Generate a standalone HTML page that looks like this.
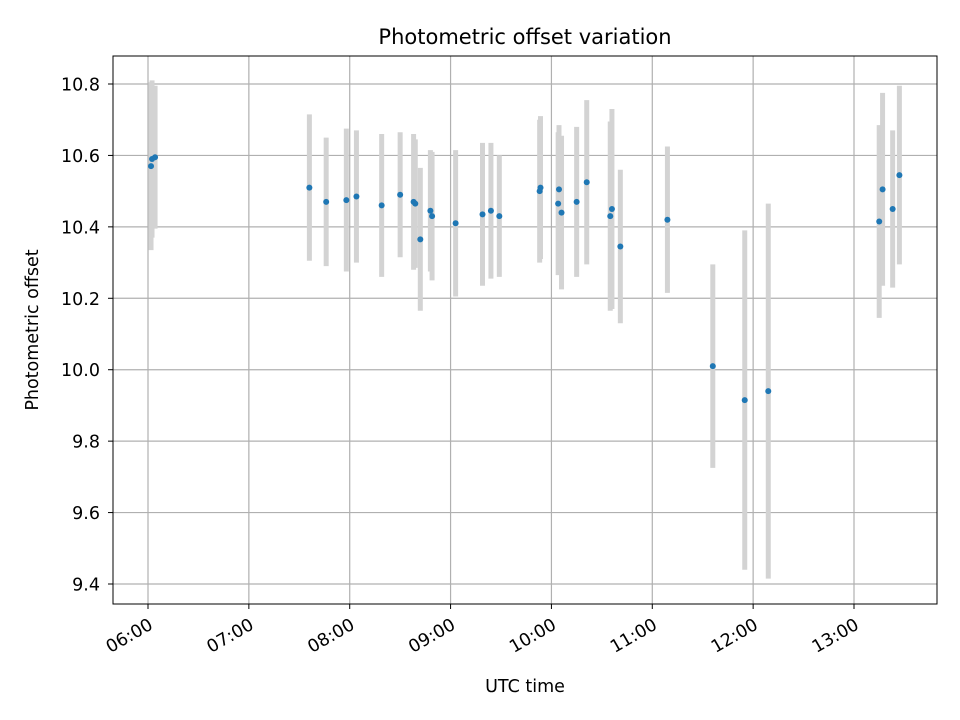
<!DOCTYPE html>
<html><head><meta charset="utf-8"><style>
body{margin:0;background:#fff}
svg{display:block;font-family:"DejaVu Sans","Liberation Sans",sans-serif}
</style></head><body>
<svg id="chart" width="960" height="720">
<rect width="960" height="720" fill="#fff"/>
<text x="525" y="44" text-anchor="middle" font-size="21">Photometric offset variation</text>
<g id="grid"></g>
<g id="bars"></g>
<g id="pts"></g>
<rect x="113" y="56" width="824" height="548" fill="none" stroke="#000" stroke-width="1"/>
<g id="axes"></g>
<text x="525" y="692" text-anchor="middle" font-size="17.5">UTC time</text>
<text transform="translate(38,330) rotate(-90)" text-anchor="middle" font-size="17.5">Photometric offset</text>
</svg>
<script>
// minutes after 06:00
const times=[1.8,2.4,4.2,96,106,118,124,139,150,158,159,162,168,169,183,199,204,209,233,233.5,244,244.5,246,255,261,275,276,281,309,336,355,369,435,437,443,447];
const values=[10.57,10.59,10.595,10.51,10.47,10.475,10.485,10.46,10.49,10.47,10.465,10.365,10.445,10.43,10.41,10.435,10.445,10.43,10.5,10.51,10.465,10.505,10.44,10.47,10.525,10.43,10.45,10.345,10.42,10.01,9.915,9.94,10.415,10.505,10.45,10.545];
const errors=[0.235,0.22,0.2,0.205,0.18,0.2,0.185,0.2,0.175,0.19,0.18,0.2,0.17,0.18,0.205,0.2,0.19,0.17,0.2,0.2,0.2,0.18,0.215,0.21,0.23,0.265,0.28,0.215,0.205,0.285,0.475,0.525,0.27,0.27,0.22,0.25];
const xTicks=["06:00","07:00","08:00","09:00","10:00","11:00","12:00","13:00"];
const yTicks=[9.4,9.6,9.8,10.0,10.2,10.4,10.6,10.8];
const NS="http://www.w3.org/2000/svg";
const X=m=>148+m*706/420;
const Y=v=>84+(10.8-v)*500/1.4;
function mk(tag,attrs,parent){const e=document.createElementNS(NS,tag);for(const k in attrs)e.setAttribute(k,attrs[k]);parent.appendChild(e);return e;}
const grid=document.getElementById('grid'),axes=document.getElementById('axes'),bars=document.getElementById('bars'),pts=document.getElementById('pts');
xTicks.forEach((lab,i)=>{const x=X(i*60);
 const g=mk('line',{x1:x,x2:x,y1:56,y2:604,stroke:'#b0b0b0','stroke-width':1.2},grid);
 
 
 const t=mk('line',{x1:x,x2:x,y1:604,y2:609,stroke:'#000'},axes);
 
 
 const tx=mk('text',{transform:`translate(${x+6},${628}) rotate(-30)`,'text-anchor':'end','font-size':17.5},axes);
 tx.textContent=lab;
 
 
});
yTicks.forEach(v=>{const y=Y(v);
 const g=mk('line',{x1:113,x2:937,y1:y,y2:y,stroke:'#b0b0b0','stroke-width':1.2},grid);
 
 
 const t=mk('line',{x1:108,x2:113,y1:y,y2:y,stroke:'#000'},axes);
 
 
 const tx=mk('text',{x:100,y:y+6.5,'text-anchor':'end','font-size':17.5},axes);
 tx.textContent=v.toFixed(1);
 
 
});
times.forEach((m,i)=>{const x=X(m);
 const b=mk('line',{x1:x,x2:x,y1:Y(values[i]+errors[i]),y2:Y(values[i]-errors[i]),stroke:'#d3d3d3','stroke-width':5},bars);
 
 
 const c=mk('circle',{cx:x,cy:Y(values[i]),r:3,fill:'#1f77b4'},pts);
 
 
});
</script>
</body></html>
